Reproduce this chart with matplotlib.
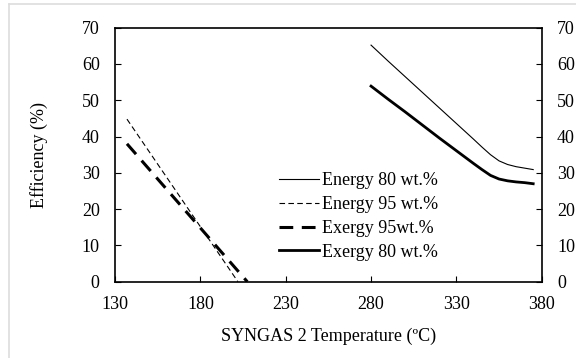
import matplotlib
matplotlib.use("Agg")
import matplotlib.pyplot as plt
from matplotlib.lines import Line2D

plt.rcParams['font.family'] = ['Liberation Serif', 'DejaVu Serif']

# Data
t_80 = [280, 290, 300, 310, 320, 330, 340, 345, 350, 355, 360, 365, 370, 375]
energy_80 = [65.2, 60.8, 56.5, 52.2, 47.9, 43.6, 39.3, 37.1, 35.0, 33.3, 32.3, 31.7, 31.3, 30.9]
exergy_80 = [53.9, 50.3, 46.8, 43.2, 39.6, 36.1, 32.6, 30.9, 29.3, 28.3, 27.8, 27.5, 27.3, 27.0]

t_e95 = [137, 202]
energy_95 = [44.8, 0.0]
t_x95 = [137, 207.5]
exergy_95 = [38.0, 0.0]

x_ticks = [130, 180, 230, 280, 330, 380]
y_ticks = [0, 10, 20, 30, 40, 50, 60, 70]

fs = 13

fig = plt.figure(figsize=(5.76, 3.58), dpi=100)
ax = fig.add_axes([0.1997, 0.2131, 0.7408, 0.7095])

l1, = ax.plot(t_80, energy_80, color='black', lw=0.8, label='Energy 80 wt.%')
l2, = ax.plot(t_e95, energy_95, color='black', lw=0.8, dashes=(5, 3), label='Energy 95 wt.%')
l3, = ax.plot(t_x95, exergy_95, color='black', lw=2.2, dashes=(4.5, 2.8), label='Exergy 95wt.%')
l4, = ax.plot(t_80, exergy_80, color='black', lw=2.0, label='Exergy 80 wt.%')

ax.set_xlim(130, 380)
ax.set_ylim(0, 70)
ax.set_xticks(x_ticks)
ax.set_yticks(y_ticks)
ax.tick_params(axis='both', direction='in', length=4, width=0.8, labelsize=fs)
ax.tick_params(axis='y', right=True, labelright=True, pad=11)
ax.tick_params(axis='x', pad=10)
for s in ax.spines.values():
    s.set_linewidth(1.2)

ax.set_xlabel('SYNGAS 2 Temperature (ºC)', fontsize=fs, labelpad=11)
ax.set_ylabel('Efficiency (%)', fontsize=fs, labelpad=24)

leg = ax.legend(handles=[l1, l2, l3, l4], loc='upper left', bbox_to_anchor=(0.384, 0.43),
                frameon=False, fontsize=fs, handlelength=2.2, handletextpad=0.2,
                labelspacing=0.37, borderpad=0, borderaxespad=0)

# light figure frame
fig.add_artist(Line2D([9/576, 9/576], [0, 1 - 4/358], color='#dddddd', lw=1.2, transform=fig.transFigure))
fig.add_artist(Line2D([9/576, 1], [1 - 4/358, 1 - 4/358], color='#dddddd', lw=1.2, transform=fig.transFigure))

fig.savefig('out.png', dpi=100)
